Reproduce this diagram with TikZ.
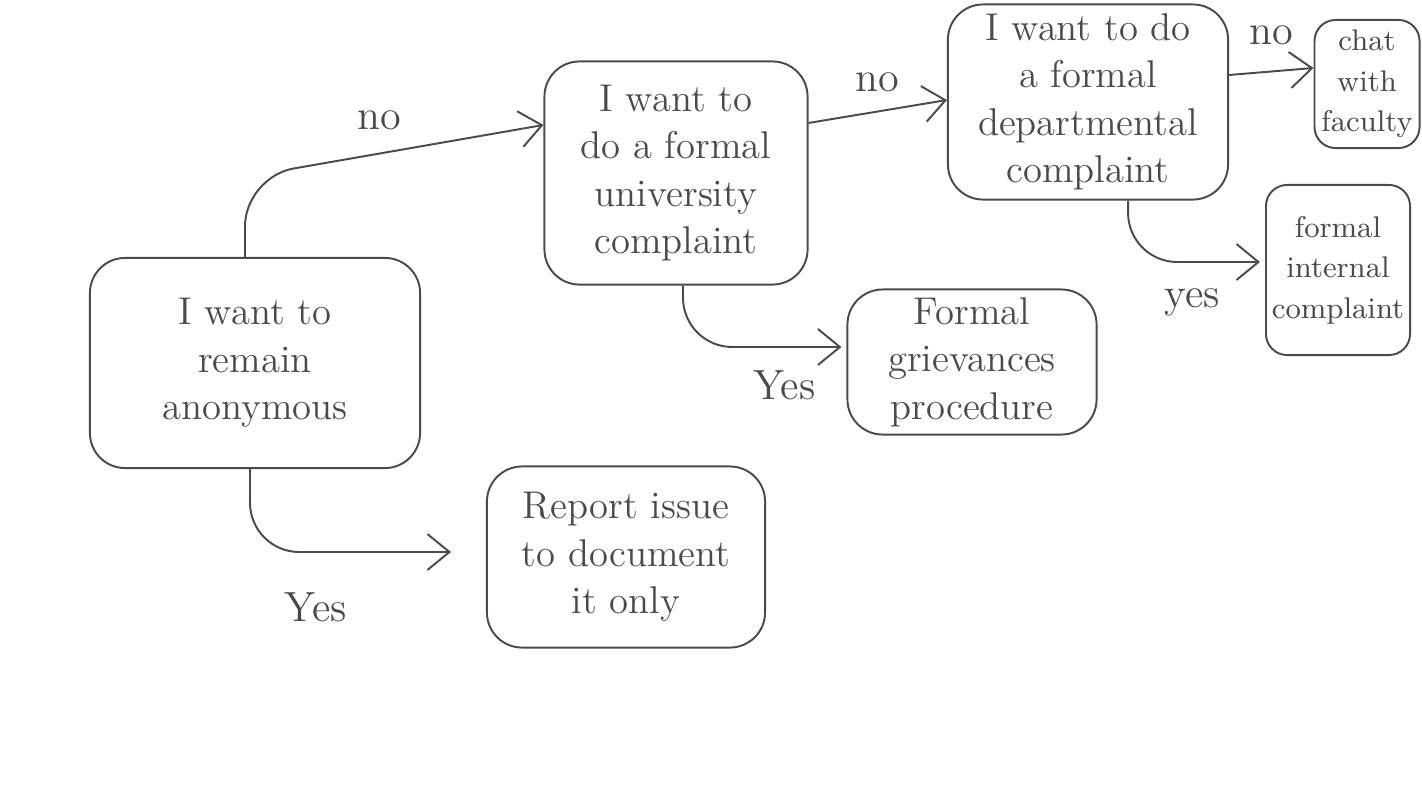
\documentclass[tikz,border=0pt]{standalone}
\usetikzlibrary{arrows.meta}
\definecolor{pencil}{HTML}{4A4A4A}
\begin{document}
\begin{tikzpicture}[
        x=0.01cm, y=-0.01cm,
        box/.style={rectangle, draw=pencil, line width=0.55pt, rounded corners=10pt, align=center, text=pencil, font=\fontsize{11}{13.5}\selectfont, inner sep=2pt},
        smallbox/.style={box, rounded corners=6pt, inner sep=1pt, font=\fontsize{8.5}{11.5}\selectfont},
        arr/.style={draw=pencil, line width=0.55pt, -{Straight Barb[length=2.2mm, width=3.6mm]}, rounded corners=14pt},
        edge_label/.style={font=\fontsize{12}{14}\selectfont, text=pencil}
    ]
        \useasboundingbox (0,0) rectangle (1422,800);

        % first question
        \node[box, minimum width=3.3cm, minimum height=2.1cm] (anon) at (255,363) {I want to\\remain\\anonymous};
        \node[box, minimum width=2.78cm, minimum height=1.81cm] (report) at (626,557) {Report issue\\to document\\it only};

        % second question
        \node[box, minimum width=2.63cm, minimum height=2.23cm] (univ) at (676,173) {I want to\\do a formal\\university\\complaint};
        \node[box, minimum width=2.49cm, minimum height=1.45cm] (griev) at (972,362) {Formal\\grievances\\procedure};

        % third question
        \node[box, minimum width=2.8cm, minimum height=1.95cm] (dept) at (1088,102) {I want to do\\a formal\\departmental\\complaint};
        \node[smallbox, minimum width=1.05cm, minimum height=1.28cm] (chat) at (1367,84) {chat\\with\\faculty};
        \node[smallbox, minimum width=1.44cm, minimum height=1.7cm] (internal) at (1338,270) {formal\\internal\\complaint};

        % answers
        \draw[arr] ([xshift=-0.1cm]anon.north) -- ++(0,-80) -- ([yshift=0.48cm]univ.west)
            node[edge_label, pos=0.45, above=3pt] (no1) {no};
        \draw[arr, shorten >=0.35cm] ([xshift=-0.05cm]anon.south) |- ([yshift=0.05cm]report.west)
            node[edge_label, pos=0.64, below=8pt] (yes1) {Yes};
        \draw[arr] ([yshift=0.5cm]univ.east) -- ([yshift=0.02cm]dept.west)
            node[edge_label, midway, above=2pt] (no2) {no};
        \draw[arr, shorten >=0.05cm] ([xshift=0.07cm]univ.south) |- ([yshift=0.15cm]griev.west)
            node[edge_label, pos=0.81, below=3pt] (yes2) {Yes};
        \draw[arr] ([yshift=0.27cm]dept.east) -- ([yshift=0.16cm]chat.west)
            node[edge_label, midway, above=4pt] (no3) {no};
        \draw[arr, shorten >=0.05cm] ([xshift=0.4cm]dept.south) |- ([yshift=0.08cm]internal.west)
            node[edge_label, pos=0.735, below=4pt] (yes3) {yes};

    \end{tikzpicture}
\end{document}
